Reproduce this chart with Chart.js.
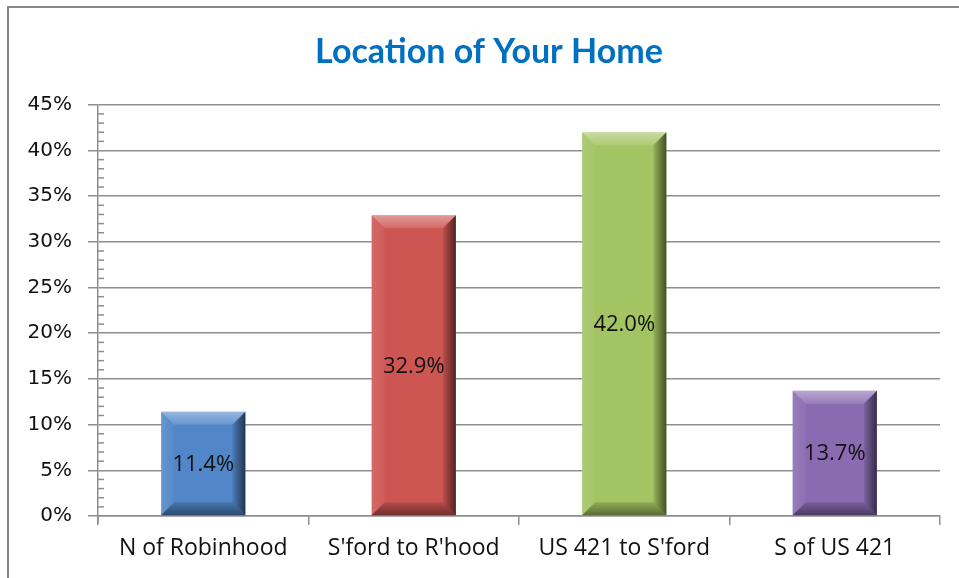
<!DOCTYPE html>
<html>
<head>
<meta charset="utf-8">
<script src="https://cdn.jsdelivr.net/npm/chart.js@4.4.1/dist/chart.umd.min.js"></script>
<style>
  html, body { margin: 0; padding: 0; background: #fff; }
  #wrap { position: relative; width: 959px; height: 578px; overflow: hidden; }
  #frame { position: absolute; left: 7px; top: 6px; width: 1000px; height: 1000px; border: 2px solid #888; box-sizing: border-box; }
  canvas { position: absolute; left: 0; top: 0; }
</style>
</head>
<body>
<div id="wrap">
  <div id="frame"></div>
  <canvas id="c" width="959" height="578"></canvas>
</div>
<script>
const categories = ["N of Robinhood", "S'ford to R'hood", "US 421 to S'ford", "S of US 421"];
const values = [11.4, 32.9, 42.0, 13.7];
const barColors = ["#5186c8", "#cd5653", "#a3c462", "#8a6bb1"];
const yTickValues = [0, 5, 10, 15, 20, 25, 30, 35, 40, 45];
const titleText = "Location of Your Home";

const gridColor = "#8e8e8e";

const bevelPlugin = {
  id: "bevel",
  afterDatasetsDraw(chart) {
    const ctx = chart.ctx;
    const meta = chart.getDatasetMeta(0);
    meta.data.forEach((el) => {
      const p = el.getProps(["x", "y", "base", "width"], true);
      const l = p.x - p.width / 2, r = p.x + p.width / 2;
      const t = Math.min(p.y, p.base), b = Math.max(p.y, p.base);
      const bv = Math.min(13, (b - t) / 2, p.width / 2);
      ctx.save();
      let g = ctx.createLinearGradient(0, t, 0, t + bv);
      g.addColorStop(0, "rgba(255,255,255,0.40)");
      g.addColorStop(1, "rgba(255,255,255,0.12)");
      ctx.fillStyle = g;
      ctx.beginPath();
      ctx.moveTo(l, t); ctx.lineTo(r, t); ctx.lineTo(r - bv, t + bv); ctx.lineTo(l + bv, t + bv); ctx.closePath();
      ctx.fill();
      g = ctx.createLinearGradient(l, 0, l + bv, 0);
      g.addColorStop(0, "rgba(255,255,255,0.12)");
      g.addColorStop(1, "rgba(255,255,255,0.03)");
      ctx.fillStyle = g;
      ctx.beginPath();
      ctx.moveTo(l, t); ctx.lineTo(l + bv, t + bv); ctx.lineTo(l + bv, b - bv); ctx.lineTo(l, b); ctx.closePath();
      ctx.fill();
      g = ctx.createLinearGradient(r - bv, 0, r, 0);
      g.addColorStop(0, "rgba(0,0,0,0.08)");
      g.addColorStop(1, "rgba(0,0,0,0.6)");
      ctx.fillStyle = g;
      ctx.beginPath();
      ctx.moveTo(r, t); ctx.lineTo(r, b); ctx.lineTo(r - bv, b - bv); ctx.lineTo(r - bv, t + bv); ctx.closePath();
      ctx.fill();
      g = ctx.createLinearGradient(0, b - bv, 0, b);
      g.addColorStop(0, "rgba(0,0,0,0.12)");
      g.addColorStop(1, "rgba(0,0,0,0.45)");
      ctx.fillStyle = g;
      ctx.beginPath();
      ctx.moveTo(l, b); ctx.lineTo(r, b); ctx.lineTo(r - bv, b - bv); ctx.lineTo(l + bv, b - bv); ctx.closePath();
      ctx.fill();
      ctx.restore();
    });
  },
  afterDraw(chart) {
    const ctx = chart.ctx;
    const meta = chart.getDatasetMeta(0);
    ctx.save();
    ctx.font = "22px 'Open Sans'";
    ctx.fillStyle = "#111";
    ctx.textAlign = "center";
    ctx.textBaseline = "middle";
    meta.data.forEach((el, i) => {
      const p = el.getProps(["x", "y", "base"], true);
      ctx.fillText(values[i].toFixed(1) + "%", p.x, (p.y + p.base) / 2 + 1);
    });
    ctx.restore();
    const ys = chart.scales.y;
    const ax = chart.chartArea.left;
    ctx.save();
    ctx.strokeStyle = gridColor;
    ctx.lineWidth = 1.5;
    for (let v = ys.min; v <= ys.max; v += 1) {
      if (v % 5 === 0) continue;
      const py = ys.getPixelForValue(v);
      ctx.beginPath();
      ctx.moveTo(ax, py);
      ctx.lineTo(ax + 6, py);
      ctx.stroke();
    }
    const py0 = ys.getPixelForValue(0);
    ctx.beginPath();
    ctx.moveTo(ax, py0);
    ctx.lineTo(ax, py0 + 7);
    ctx.stroke();
    ctx.restore();
  }
};

new Chart(document.getElementById("c"), {
  type: "bar",
  data: {
    labels: categories,
    datasets: [{
      data: values,
      backgroundColor: barColors,
      borderWidth: 0,
      categoryPercentage: 1.0,
      barPercentage: 0.4
    }]
  },
  options: {
    responsive: false,
    animation: false,
    devicePixelRatio: 1,
    layout: { padding: { left: 19, right: 0, top: 0, bottom: 0 } },
    plugins: {
      legend: { display: false },
      tooltip: { enabled: false },
      title: {
        display: true,
        text: titleText,
        color: "#0070C0",
        font: { family: "Lato", size: 34, weight: "bold", lineHeight: 1.2 },
        padding: { top: 32, bottom: 32 }
      }
    },
    scales: {
      x: {
        grid: {
          offset: true,
          drawOnChartArea: false,
          drawTicks: true,
          tickLength: 9,
          color: gridColor,
          lineWidth: 1.5
        },
        border: { display: true, color: gridColor, width: 1.5 },
        ticks: {
          color: "#111",
          font: { family: "Open Sans", size: 23 },
          padding: 10,
          maxRotation: 0
        },
        afterFit(scale) { scale.height = 62; }
      },
      y: {
        min: 0,
        max: 45,
        afterBuildTicks(scale) { scale.ticks = yTickValues.map(v => ({ value: v })); },
        grid: {
          color: gridColor,
          lineWidth: 1.5,
          drawTicks: true,
          tickLength: 10
        },
        border: { display: true, color: gridColor, width: 1.5 },
        ticks: {
          color: "#111",
          font: { family: "DejaVu Sans", size: 20 },
          padding: 16,
          callback: (v) => v + "%"
        },
        afterFit(scale) { scale.width = 79; }
      },
      yRight: {
        position: "right",
        min: 0,
        max: 45,
        display: true,
        grid: { display: false, drawTicks: false },
        border: { display: false },
        ticks: { display: false },
        afterFit(scale) { scale.width = 19; }
      }
    }
  },
  plugins: [bevelPlugin]
});
</script>
</body>
</html>
